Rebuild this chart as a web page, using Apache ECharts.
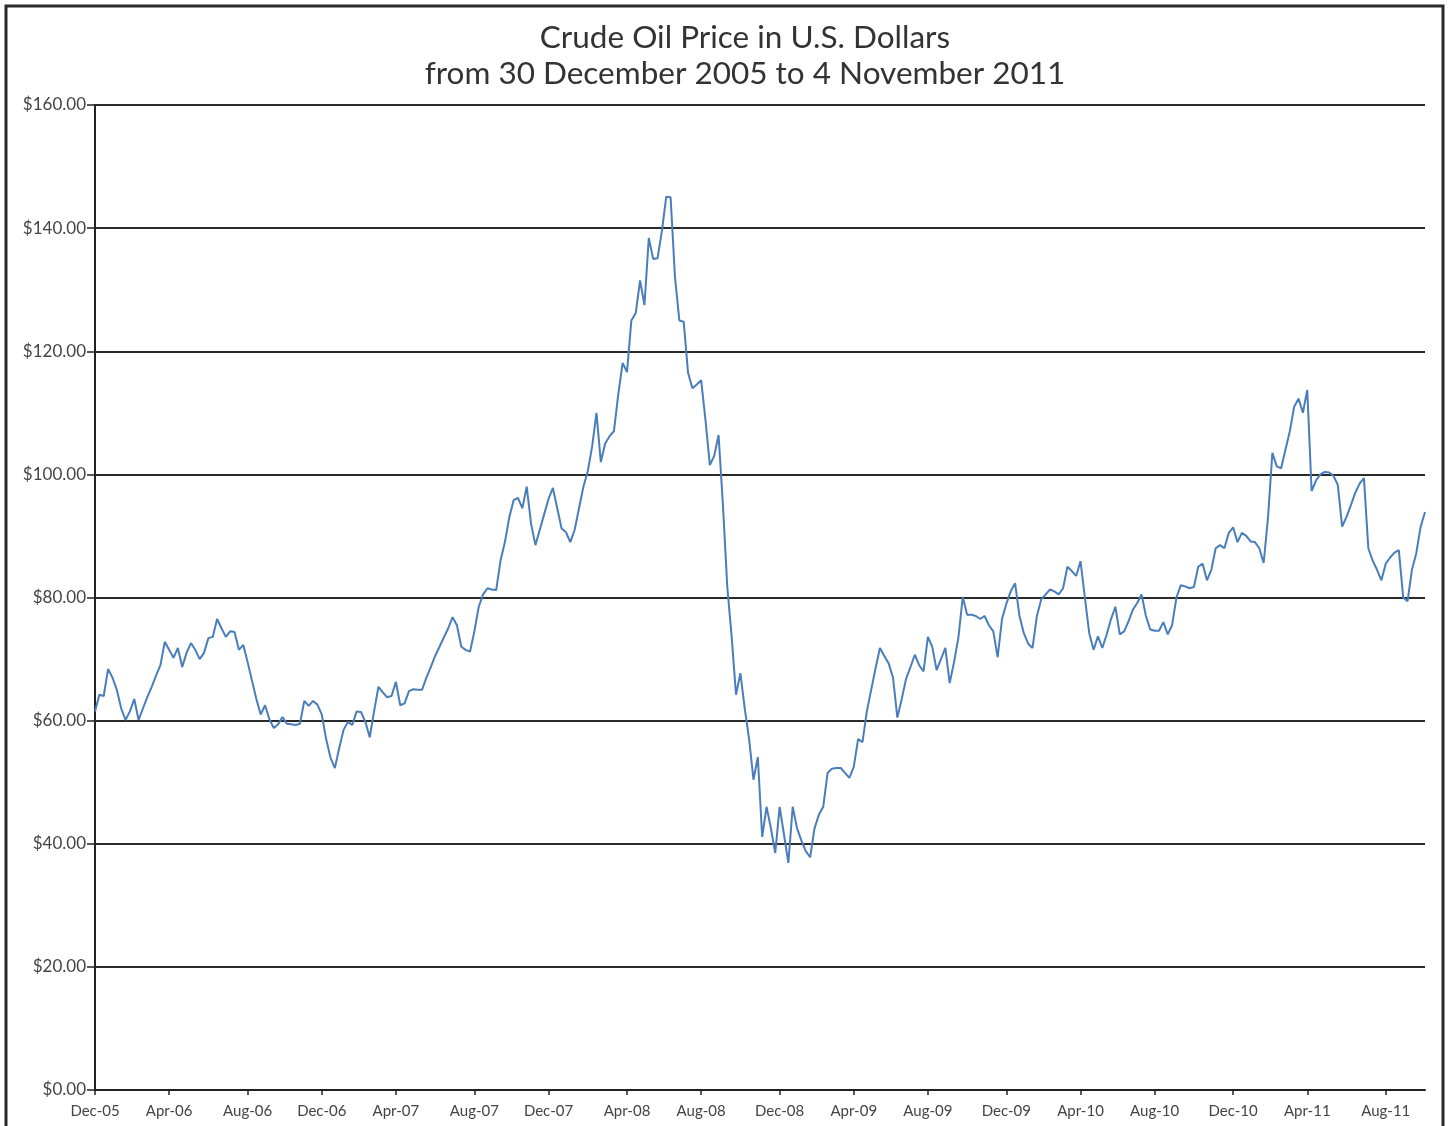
<!DOCTYPE html>
<html>
<head>
<meta charset="utf-8">
<title>Crude Oil Price</title>
<script src="https://cdn.jsdelivr.net/npm/echarts@6/dist/echarts.min.js"></script>
<style>
  html, body { margin: 0; padding: 0; background: #fff; }
  #main { width: 1449px; height: 1126px; }
</style>
</head>
<body>
<div id="main"></div>
<script>
// weekly prices, first week ends 30 Dec 2005, last 4 Nov 2011
const firstWeek = '2005-12-30'
const prices = [
  61.5, 64.2, 64.0, 68.4, 67.0, 65.0, 62.0, 60.1, 61.5, 63.5,
  60.1, 62.0, 63.8, 65.5, 67.3, 69.0, 72.8, 71.5, 70.2, 71.8,
  68.7, 71.0, 72.6, 71.5, 70.0, 71.0, 73.4, 73.6, 76.5, 75.0,
  73.6, 74.5, 74.4, 71.5, 72.3, 69.5, 66.5, 63.5, 61.0, 62.5,
  60.2, 58.8, 59.4, 60.6, 59.5, 59.4, 59.3, 59.5, 63.2, 62.4,
  63.2, 62.6, 61.0, 57.0, 54.0, 52.3, 55.5, 58.5, 59.8, 59.3,
  61.5, 61.4, 59.8, 57.3, 61.5, 65.5, 64.6, 63.8, 64.0, 66.3,
  62.5, 62.8, 64.8, 65.1, 65.0, 65.0, 67.0, 68.7, 70.5, 72.0,
  73.5, 75.0, 76.8, 75.5, 72.0, 71.5, 71.2, 74.5, 78.5, 80.5,
  81.5, 81.3, 81.2, 86.0, 89.0, 93.0, 95.8, 96.2, 94.5, 98.0,
  92.0, 88.5, 91.0, 93.5, 96.0, 97.8, 94.5, 91.2, 90.6, 89.0,
  91.0, 94.5, 98.0, 100.5, 104.5, 110.0, 102.0, 105.0, 106.2, 107.0,
  113.0, 118.1, 116.6, 125.0, 126.2, 131.5, 127.5, 138.4, 135.0, 135.1,
  139.5, 145.1, 145.0, 132.1, 125.0, 124.8, 116.5, 114.0, 114.6, 115.3,
  108.8, 101.5, 103.0, 106.4, 95.0, 81.7, 73.6, 64.2, 67.7, 62.0,
  57.0, 50.4, 54.1, 41.1, 46.0, 42.5, 38.5, 46.0, 41.5, 36.9,
  46.0, 42.5, 40.5, 38.8, 37.8, 42.5, 44.7, 46.0, 51.5, 52.2,
  52.3, 52.3, 51.5, 50.7, 52.5, 57.0, 56.5, 61.5, 65.0, 68.5,
  71.8, 70.5, 69.3, 67.0, 60.5, 63.5, 66.8, 68.7, 70.7, 69.0,
  68.0, 73.6, 72.0, 68.2, 70.0, 71.8, 66.1, 69.5, 73.5, 80.1,
  77.2, 77.2, 77.0, 76.5, 77.0, 75.5, 74.5, 70.3, 76.5, 79.0,
  81.0, 82.3, 77.0, 74.2, 72.5, 71.8, 77.0, 79.7, 80.5, 81.3,
  81.0, 80.5, 81.5, 85.0, 84.3, 83.5, 85.9, 80.0, 74.2, 71.5,
  73.7, 71.8, 74.0, 76.5, 78.5, 74.0, 74.5, 76.1, 78.0, 79.1,
  80.5, 77.0, 74.8, 74.6, 74.6, 76.0, 74.0, 75.5, 80.0, 82.0,
  81.8, 81.5, 81.7, 85.0, 85.5, 82.8, 84.5, 88.0, 88.5, 88.0,
  90.5, 91.4, 89.0, 90.5, 90.0, 89.1, 89.0, 88.0, 85.6, 93.0,
  103.5, 101.3, 101.0, 104.0, 107.0, 111.0, 112.3, 110.0, 113.7, 97.3,
  99.0, 100.0, 100.4, 100.3, 99.8, 98.3, 91.5, 93.1, 95.0, 97.0,
  98.5, 99.4, 88.0, 86.0, 84.5, 82.8, 85.5, 86.5, 87.3, 87.7,
  80.0, 79.4, 84.5, 87.2, 91.5, 93.9
]
// x ticks every 4 months starting at the first date
const tickDates = [
  '2005-12-30', '2006-04-30', '2006-08-30', '2006-12-30', '2007-04-30', '2007-08-30',
  '2007-12-30', '2008-04-30', '2008-08-30', '2008-12-30', '2009-04-30', '2009-08-30',
  '2009-12-30', '2010-04-30', '2010-08-30', '2010-12-30', '2011-04-30', '2011-08-30'
]
const tickLabels = [
  'Dec-05', 'Apr-06', 'Aug-06', 'Dec-06', 'Apr-07', 'Aug-07',
  'Dec-07', 'Apr-08', 'Aug-08', 'Dec-08', 'Apr-09', 'Aug-09',
  'Dec-09', 'Apr-10', 'Aug-10', 'Dec-10', 'Apr-11', 'Aug-11'
]
const yTicks = [0, 20, 40, 60, 80, 100, 120, 140, 160]

const DAY = 86400000
const t0 = Date.parse(firstWeek)
const weeks = prices.map((p, i) => new Date(t0 + i * 7 * DAY).toISOString().slice(0, 10))

// week index closest to each tick date
const tickAt = {}
tickDates.forEach((d, k) => {
  tickAt[Math.round((Date.parse(d) - t0) / (7 * DAY))] = tickLabels[k]
})
const isTick = (index) => tickAt[index] !== undefined

const chart = echarts.init(document.getElementById('main'))

const option = {
  backgroundColor: '#fff',
  animation: false,
  title: {
    text: 'Crude Oil Price in U.S. Dollars\nfrom 30 December 2005 to 4 November 2011',
    left: 740,
    textAlign: 'center',
    top: 15,
    textStyle: {
      fontFamily: 'Lato',
      fontWeight: 'normal',
      fontSize: 31.5,
      lineHeight: 36,
      color: '#333'
    }
  },
  graphic: [{
    type: 'rect',
    silent: true,
    shape: { x: 6, y: 6, width: 1437, height: 1140 },
    style: { fill: 'none', stroke: '#2a2a2a', lineWidth: 3 }
  }],
  grid: {
    left: 95,
    right: 24,
    top: 105,
    bottom: 36,
    containLabel: false,
    outerBoundsMode: 'none'
  },
  xAxis: {
    type: 'category',
    data: weeks,
    boundaryGap: false,
    axisLine: { lineStyle: { color: '#222', width: 2 } },
    axisTick: {
      interval: isTick,
      length: 5,
      lineStyle: { color: '#222', width: 1.5 }
    },
    axisLabel: {
      interval: isTick,
      formatter: (v, idx) => tickAt[idx] || '',
      fontFamily: 'Lato',
      fontSize: 15,
      color: '#444',
      margin: 14
    },
    splitLine: { show: false }
  },
  yAxis: {
    type: 'value',
    min: yTicks[0],
    max: yTicks[yTicks.length - 1],
    interval: 20,
    axisLine: { show: true, lineStyle: { color: '#222', width: 2 } },
    axisTick: { show: true, length: 8, lineStyle: { color: '#222', width: 1.5 } },
    axisLabel: {
      formatter: v => '$' + v.toFixed(2),
      fontFamily: 'Lato',
      fontSize: 17,
      color: '#444',
      margin: 9
    },
    splitLine: { lineStyle: { color: '#2a2a2a', width: 2 } }
  },
  series: [{
    name: 'Crude Oil',
    type: 'line',
    data: prices,
    showSymbol: false,
    symbol: 'none',
    sampling: 'none',
    lineStyle: { color: '#4a7ebb', width: 2 },
    z: 3
  }]
}

chart.setOption(option)
</script>
</body>
</html>
